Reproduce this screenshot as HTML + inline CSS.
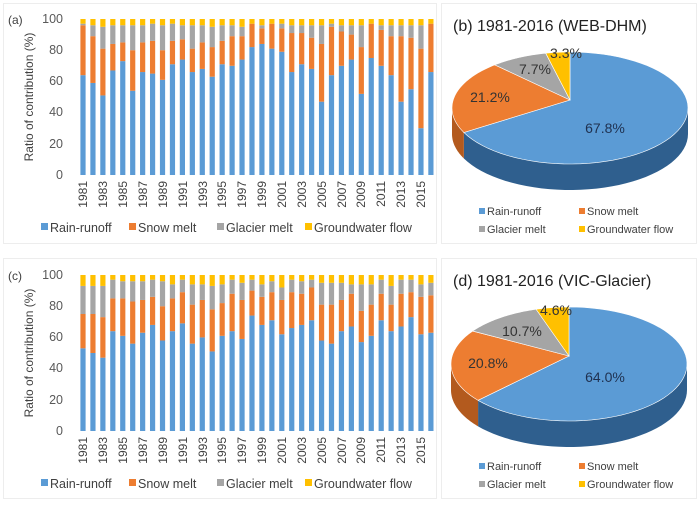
<!DOCTYPE html>
<html><head><meta charset="utf-8"><style>
html,body{margin:0;padding:0;background:#fff;}
svg{display:block;font-family:"Liberation Sans",Arial,sans-serif;}
</style></head><body>
<svg id="s" width="700" height="506" viewBox="0 0 700 506" xmlns="http://www.w3.org/2000/svg">
<rect x="0" y="0" width="700" height="506" fill="#fff"/>
<rect x="3.5" y="3.5" width="433" height="240" fill="none" stroke="#ededed"/>
<rect x="441.5" y="3.5" width="255" height="240" fill="none" stroke="#ededed"/>
<rect x="3.5" y="258.5" width="433" height="240" fill="none" stroke="#ededed"/>
<rect x="441.5" y="258.5" width="255" height="240" fill="none" stroke="#ededed"/>
<g id="ga"></g><g id="gc"></g><g id="pb"></g><g id="pd"></g>
<g font-size="12" fill="#404040">
<text x="8" y="24">(a)</text>
<text x="8" y="280">(c)</text>
</g>
<g font-size="12.5" fill="#595959" text-anchor="end">
<text x="63" y="23">100</text><text x="63" y="54">80</text><text x="63" y="85">60</text><text x="63" y="116">40</text><text x="63" y="148">20</text><text x="63" y="179">0</text>
<text x="63" y="279">100</text><text x="63" y="310">80</text><text x="63" y="341">60</text><text x="63" y="372">40</text><text x="63" y="404">20</text><text x="63" y="435">0</text>
</g>
<g font-size="12" fill="#404040" text-anchor="middle">
<text transform="translate(33,97) rotate(-90)">Ratio of contribution (%)</text>
<text transform="translate(33,353) rotate(-90)">Ratio of contribution (%)</text>
</g>
<g id="yrs" font-size="12" fill="#404040" text-anchor="end">
<text transform="translate(87,181) rotate(-90)">1981</text>
<text transform="translate(107,181) rotate(-90)">1983</text>
<text transform="translate(127,181) rotate(-90)">1985</text>
<text transform="translate(147,181) rotate(-90)">1987</text>
<text transform="translate(167,181) rotate(-90)">1989</text>
<text transform="translate(187,181) rotate(-90)">1991</text>
<text transform="translate(207,181) rotate(-90)">1993</text>
<text transform="translate(226,181) rotate(-90)">1995</text>
<text transform="translate(246,181) rotate(-90)">1997</text>
<text transform="translate(266,181) rotate(-90)">1999</text>
<text transform="translate(286,181) rotate(-90)">2001</text>
<text transform="translate(306,181) rotate(-90)">2003</text>
<text transform="translate(326,181) rotate(-90)">2005</text>
<text transform="translate(346,181) rotate(-90)">2007</text>
<text transform="translate(365,181) rotate(-90)">2009</text>
<text transform="translate(385,181) rotate(-90)">2011</text>
<text transform="translate(405,181) rotate(-90)">2013</text>
<text transform="translate(425,181) rotate(-90)">2015</text>
<text transform="translate(87,437) rotate(-90)">1981</text>
<text transform="translate(107,437) rotate(-90)">1983</text>
<text transform="translate(127,437) rotate(-90)">1985</text>
<text transform="translate(147,437) rotate(-90)">1987</text>
<text transform="translate(167,437) rotate(-90)">1989</text>
<text transform="translate(187,437) rotate(-90)">1991</text>
<text transform="translate(207,437) rotate(-90)">1993</text>
<text transform="translate(226,437) rotate(-90)">1995</text>
<text transform="translate(246,437) rotate(-90)">1997</text>
<text transform="translate(266,437) rotate(-90)">1999</text>
<text transform="translate(286,437) rotate(-90)">2001</text>
<text transform="translate(306,437) rotate(-90)">2003</text>
<text transform="translate(326,437) rotate(-90)">2005</text>
<text transform="translate(346,437) rotate(-90)">2007</text>
<text transform="translate(365,437) rotate(-90)">2009</text>
<text transform="translate(385,437) rotate(-90)">2011</text>
<text transform="translate(405,437) rotate(-90)">2013</text>
<text transform="translate(425,437) rotate(-90)">2015</text>
</g>
<g font-size="12.5" fill="#404040">
<rect x="41" y="223" width="7" height="7" fill="#5b9bd5"/><text x="50" y="232">Rain-runoff</text>
<rect x="129" y="223" width="7" height="7" fill="#ed7d31"/><text x="138" y="232">Snow melt</text>
<rect x="217" y="223" width="7" height="7" fill="#a5a5a5"/><text x="226" y="232">Glacier melt</text>
<rect x="305" y="223" width="7" height="7" fill="#ffc000"/><text x="314" y="232">Groundwater flow</text>
<rect x="41" y="479" width="7" height="7" fill="#5b9bd5"/><text x="50" y="488">Rain-runoff</text>
<rect x="129" y="479" width="7" height="7" fill="#ed7d31"/><text x="138" y="488">Snow melt</text>
<rect x="217" y="479" width="7" height="7" fill="#a5a5a5"/><text x="226" y="488">Glacier melt</text>
<rect x="305" y="479" width="7" height="7" fill="#ffc000"/><text x="314" y="488">Groundwater flow</text>
</g>
<g font-size="16" fill="#222">
<text x="453" y="31">(b) 1981-2016 (WEB-DHM)</text>
<text x="453" y="286">(d) 1981-2016 (VIC-Glacier)</text>
</g>
<g font-size="11" fill="#404040">
<rect x="479" y="208" width="6" height="6" fill="#5b9bd5"/><text x="487" y="215">Rain-runoff</text>
<rect x="579" y="208" width="6" height="6" fill="#ed7d31"/><text x="587" y="215">Snow melt</text>
<rect x="479" y="226" width="6" height="6" fill="#a5a5a5"/><text x="487" y="233">Glacier melt</text>
<rect x="579" y="226" width="6" height="6" fill="#ffc000"/><text x="587" y="233">Groundwater flow</text>
<rect x="479" y="463" width="6" height="6" fill="#5b9bd5"/><text x="487" y="470">Rain-runoff</text>
<rect x="579" y="463" width="6" height="6" fill="#ed7d31"/><text x="587" y="470">Snow melt</text>
<rect x="479" y="481" width="6" height="6" fill="#a5a5a5"/><text x="487" y="488">Glacier melt</text>
<rect x="579" y="481" width="6" height="6" fill="#ffc000"/><text x="587" y="488">Groundwater flow</text>
</g>
<g font-size="14" fill="#333" text-anchor="middle" id="plab">
<text x="605" y="133" fill="#1f3150">67.8%</text>
<text x="490" y="102">21.2%</text>
<text x="535" y="74">7.7%</text>
<text x="566" y="58">3.3%</text>
<text x="605" y="382" fill="#1f3150">64.0%</text>
<text x="488" y="368">20.8%</text>
<text x="522" y="336">10.7%</text>
<text x="556" y="315">4.6%</text>
</g>
</svg>
<script>
var A=[[64,96,97],[59,89,96],[51,81,95],[67,84,96],[73,85,96],[54,80,96],[66,85,96],[65,86,97],[61,80,96],[71,86,97],[74,87,96],[66,81,96],[68,85,96],[63,82,95],[71,86,96],[70,89,96],[74,89,95],[82,97,97],[84,94,96],[81,97,97],[79,94,97],[66,91,96],[71,91,96],[68,88,96],[47,84,96],[64,95,97],[70,92,96],[74,90,96],[52,82,96],[75,97,97],[70,93,96],[64,89,96],[47,89,96],[55,88,96],[30,81,96],[66,97,97]];
var C=[[53,75,93],[50,75,93],[47,73,93],[64,85,97],[61,85,96],[56,83,96],[63,84,96],[68,86,97],[58,80,96],[64,85,94],[69,89,97],[56,81,94],[60,84,94],[51,78,93],[61,82,94],[64,88,97],[59,84,95],[74,90,97],[68,86,94],[71,89,96],[62,84,92],[66,89,97],[68,88,96],[71,92,97],[58,81,95],[56,81,95],[64,84,95],[67,88,94],[57,77,94],[61,81,94],[71,88,97],[64,81,93],[67,88,97],[73,89,97],[62,86,94],[63,87,95]];
var NS="http://www.w3.org/2000/svg";
function el(p,t,a){var e=document.createElementNS(NS,t);for(var k in a)e.setAttribute(k,a[k]);p.appendChild(e);return e;}
function bars(id,D,y0,y100){var g=document.getElementById(id),s=(y0-y100)/100,cols=["#5b9bd5","#ed7d31","#a5a5a5","#ffc000"];
D.forEach(function(d,i){var x=83+i*9.94-2.6,v=[0,d[0],d[1],d[2],100];for(var k=0;k<4;k++){el(g,"rect",{x:x,y:y0-v[k+1]*s,width:5.2,height:(v[k+1]-v[k])*s,fill:cols[k]});}});}
bars("ga",A,175,19);bars("gc",C,431,275);
function pie(id,cx,cy,rx,ry,dep,vy,pcts){var g=document.getElementById(id);
var top=["#5b9bd5","#ed7d31","#a5a5a5","#ffc000"],side=["#2f5f8e","#b35a1e","#7a7a7a","#b88a00"];
function P(t,dy){var r=t*Math.PI/180;return [cx+rx*Math.sin(r),cy-ry*Math.cos(r)+(dy||0)];}
var a=0,sl=[];pcts.forEach(function(p){sl.push([a,a+p*3.6]);a+=p*3.6;});
sl.forEach(function(s,i){var a0=Math.max(s[0],90),a1=Math.min(s[1],270);if(a1<=a0)return;
var d="",n=40,k,p;for(k=0;k<=n;k++){p=P(a0+(a1-a0)*k/n);d+=(k?"L":"M")+p[0].toFixed(2)+","+p[1].toFixed(2);}
for(k=n;k>=0;k--){p=P(a0+(a1-a0)*k/n,dep);d+="L"+p[0].toFixed(2)+","+p[1].toFixed(2);}
el(g,"path",{d:d+"Z",fill:side[i]});});
sl.forEach(function(s,i){var d="M"+cx+","+vy,n=60,k,p;for(k=0;k<=n;k++){p=P(s[0]+(s[1]-s[0])*k/n);d+="L"+p[0].toFixed(2)+","+p[1].toFixed(2);}
el(g,"path",{d:d+"Z",fill:top[i],stroke:"#fff","stroke-width":"0.6"});});}
pie("pb",570,108,118,56,26,100,[67.8,21.2,7.7,3.3]);
pie("pd",569,364,118,57,26,356,[64.0,20.8,10.7,4.5]);
</script>
</body></html>
